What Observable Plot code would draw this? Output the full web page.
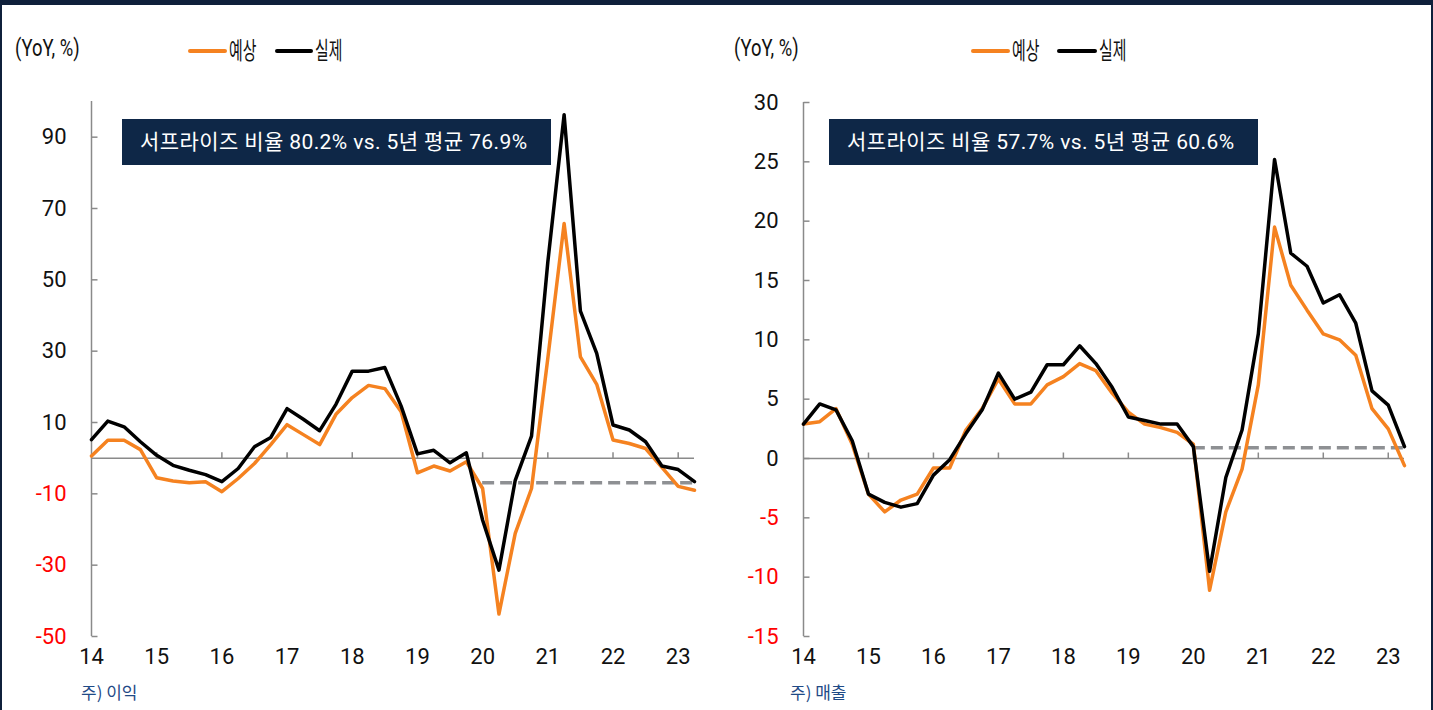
<!DOCTYPE html>
<html>
<head>
<meta charset="utf-8">
<script src="https://cdn.jsdelivr.net/npm/d3@7"></script>
<script src="https://cdn.jsdelivr.net/npm/@observablehq/plot@0.6"></script>
<style>
  body { margin: 0; background: #fff; }
  #wrap { position: relative; width: 1433px; height: 710px; overflow: hidden; background: #fff;
          font-family: Roboto, "Noto Sans CJK KR", sans-serif; }
  .edge { position: absolute; background: #0f203b; }
  .panel { position: absolute; top: 0; }
  .unit { position: absolute; top: 34px; font-size: 23px; color: #111; transform-origin: left center;
          transform: scaleX(0.8); white-space: nowrap; font-family: Roboto, "Noto Sans CJK KR", sans-serif; }
  .lg-line { position: absolute; height: 4px; border-radius: 2px; }
  .lg-text { position: absolute; top: 34px; font-size: 24px; color: #111; transform-origin: left center;
             transform: scaleX(0.62); white-space: nowrap; font-family: "Noto Sans CJK KR", sans-serif; line-height: 30px; }
  .note { position: absolute; top: 119px; width: 429px; height: 46px; background: #0e2747; color: #fff;
          font-size: 21px; letter-spacing: 0.4px; line-height: 46px; box-sizing: border-box; padding-left: 18px; white-space: nowrap;
          font-family: Roboto, "Noto Sans CJK KR", sans-serif; }
  .cap { position: absolute; top: 679px; font-size: 17px; color: #1f4a86; white-space: nowrap;
         font-family: "Noto Sans CJK KR", sans-serif; }
</style>
</head>
<body>
<div id="wrap">
  <div class="edge" style="left:0;top:0;width:1433px;height:5px;"></div>
  <div class="edge" style="left:0;top:0;width:2px;height:710px;"></div>
  <div class="edge" style="right:0;top:0;width:2px;height:710px;"></div>

  <div class="unit" style="left:15px;line-height:30px;">(YoY, %)</div>
  <div class="lg-line" style="left:188px;top:49px;width:39px;background:#f58220;"></div>
  <div class="lg-text" style="left:229px;">예상</div>
  <div class="lg-line" style="left:275px;top:49px;width:38px;background:#000;"></div>
  <div class="lg-text" style="left:315px;">실제</div>

  <div class="unit" style="left:734px;line-height:30px;">(YoY, %)</div>
  <div class="lg-line" style="left:971px;top:49px;width:39px;background:#f58220;"></div>
  <div class="lg-text" style="left:1012px;">예상</div>
  <div class="lg-line" style="left:1057px;top:49px;width:40px;background:#000;"></div>
  <div class="lg-text" style="left:1099px;">실제</div>

  <div id="left" class="panel" style="left:0;"></div>
  <div id="right" class="panel" style="left:712px;"></div>

  <div class="note" style="left:122px;">서프라이즈 비율 80.2% vs. 5년 평균 76.9%</div>
  <div class="note" style="left:829px;">서프라이즈 비율 57.7% vs. 5년 평균 60.6%</div>

  <div class="cap" style="left:81px;">주) 이익</div>
  <div class="cap" style="left:790px;">주) 매출</div>
</div>
<script>
// ---- data ----
const quarters = [
  "2014Q1","2014Q2","2014Q3","2014Q4","2015Q1","2015Q2","2015Q3","2015Q4",
  "2016Q1","2016Q2","2016Q3","2016Q4","2017Q1","2017Q2","2017Q3","2017Q4",
  "2018Q1","2018Q2","2018Q3","2018Q4","2019Q1","2019Q2","2019Q3","2019Q4",
  "2020Q1","2020Q2","2020Q3","2020Q4","2021Q1","2021Q2","2021Q3","2021Q4",
  "2022Q1","2022Q2","2022Q3","2022Q4","2023Q1","2023Q2"
];
const years = [2014, 2015, 2016, 2017, 2018, 2019, 2020, 2021, 2022, 2023];
const yearLabels = ["14", "15", "16", "17", "18", "19", "20", "21", "22", "23"];

// 이익 (earnings) YoY %
const profitForecast = [0.6, 5.0, 5.0, 2.4, -5.5, -6.4, -6.9, -6.6, -9.4, -5.7, -1.5, 3.8, 9.4, 6.6, 3.8, 12.3,
  17.0, 20.4, 19.5, 13.0, -4.1, -2.2, -3.6, -1.0, -8.5, -43.7, -21.1, -8.5, 28.0, 65.8, 28.4, 20.7,
  5.1, 4.1, 2.7, -2.6, -7.9, -9.0];
const profitActual = [5.2, 10.4, 8.8, 4.6, 0.8, -2.0, -3.4, -4.6, -6.6, -2.9, 3.2, 5.8, 13.9, 10.9, 7.7, 15.1,
  24.4, 24.4, 25.4, 14.6, 1.2, 2.2, -1.3, 1.5, -17.4, -31.4, -6.2, 6.2, 55.0, 96.3, 41.2, 29.4,
  9.3, 7.9, 4.6, -2.2, -3.2, -6.6];
const profitAverage = -6.9;
const profitYTicks = [90, 70, 50, 30, 10, -10, -30, -50];

// 매출 (sales) YoY %
const salesForecast = [2.9, 3.1, 4.2, 1.2, -3.0, -4.5, -3.5, -3.0, -0.8, -0.8, 2.4, 4.2, 6.7, 4.6, 4.6, 6.2,
  6.9, 8.0, 7.4, 5.5, 3.9, 2.9, 2.6, 2.2, 1.2, -11.1, -4.5, -0.9, 6.2, 19.5, 14.6, 12.5,
  10.5, 10.0, 8.7, 4.2, 2.5, -0.6];
const salesActual = [2.9, 4.6, 4.1, 1.5, -3.0, -3.7, -4.1, -3.8, -1.4, -0.1, 2.1, 4.1, 7.2, 5.0, 5.6, 7.9,
  7.9, 9.5, 8.0, 6.0, 3.5, 3.2, 2.9, 2.9, 1.0, -9.5, -1.6, 2.4, 10.5, 25.2, 17.3, 16.2,
  13.1, 13.8, 11.4, 5.7, 4.5, 1.0];
const salesAverage = 0.9;
const salesYTicks = [30, 25, 20, 15, 10, 5, 0, -5, -10, -15];

const averageFrom = 2020;

// ---- drawing ----
const toYear = q => +q.slice(0, 4) + (+q.slice(5) - 1) / 4;
const axisGray = "#8a8a8a";
const hTick = {draw(ctx) { ctx.moveTo(0, 0); ctx.lineTo(6, 0); }};
const vTick = {draw(ctx) { ctx.moveTo(0, 0); ctx.lineTo(0, -6); }};

function panel({forecast, actual, average, yDomain, yTicks, width, marginRight, marginTop}) {
  const rows = quarters.map((q, i) => ({t: toYear(q), f: forecast[i], a: actual[i]}));
  const x0 = rows[0].t, x1 = rows[rows.length - 1].t;
  return Plot.plot({
    width, height: 710,
    marginLeft: 91, marginRight, marginTop, marginBottom: 74,
    style: {background: "transparent", overflow: "visible"},
    x: {domain: [x0, x1], axis: null},
    y: {domain: yDomain, axis: null},
    marks: [
      Plot.ruleY([0], {x1: x0, x2: x1, stroke: axisGray, strokeWidth: 1.5}),
      Plot.ruleX([x0], {y1: yDomain[0], y2: yDomain[1], stroke: axisGray, strokeWidth: 1.5}),
      Plot.dot(yTicks, {x: x0, y: d => d, symbol: hTick, fill: "none", stroke: axisGray, strokeWidth: 1.5}),
      Plot.dot(years.slice(1), {x: d => d, y: 0, symbol: vTick, fill: "none", stroke: axisGray, strokeWidth: 1.5}),
      Plot.text(yTicks, {y: d => d, frameAnchor: "left", dx: -25, textAnchor: "end", text: d => String(d),
        fill: d => d < 0 ? "#ff0000" : "#111", fontSize: 22, fontFamily: "Roboto"}),
      Plot.text(years, {x: d => d, frameAnchor: "bottom", dy: 27, text: (d, i) => yearLabels[i],
        fill: "#111", fontSize: 22, fontFamily: "Roboto"}),
      Plot.ruleY([average], {x1: averageFrom, x2: x1, stroke: "#8e9093", strokeWidth: 3.5, strokeDasharray: "12,6"}),
      Plot.line(rows, {x: "t", y: "f", stroke: "#f58220", strokeWidth: 3.5}),
      Plot.line(rows, {x: "t", y: "a", stroke: "#000", strokeWidth: 3.5})
    ]
  });
}

document.getElementById("left").append(panel({
  forecast: profitForecast, actual: profitActual, average: profitAverage,
  yDomain: [-50, 100], yTicks: profitYTicks, width: 712, marginRight: 18, marginTop: 101
}));
document.getElementById("right").append(panel({
  forecast: salesForecast, actual: salesActual, average: salesAverage,
  yDomain: [-15, 30], yTicks: salesYTicks, width: 720, marginRight: 28, marginTop: 102
}));
</script>
</body>
</html>
